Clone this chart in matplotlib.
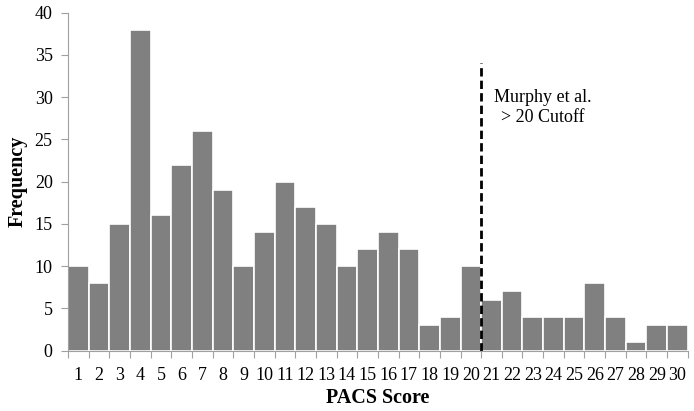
import numpy as np
import matplotlib.pyplot as plt

scores = list(range(1, 31))
freq = [10, 8, 15, 38, 16, 22, 26, 19, 10, 14, 20, 17, 15, 10, 12, 14, 12, 3, 4, 10,
        6, 7, 4, 4, 4, 8, 4, 1, 3, 3]
cutoff = 20.5

plt.rcParams['font.family'] = ['Liberation Serif', 'DejaVu Serif']

fig = plt.figure(figsize=(6.94, 4.11), dpi=100)
ax = fig.add_axes([0.098, 0.147, 0.893, 0.822])

ax.bar(scores, freq, width=1.0, color='#808080', edgecolor='white', linewidth=1.2)
ax.plot([cutoff, cutoff], [0, 34.1], color='black', linestyle=(0, (3, 1.5)), linewidth=2)
ax.text(23.5, 28.8, 'Murphy et al.\n> 20 Cutoff', ha='center', va='center', fontsize=13)

ax.set_xlim(0.5, 30.5)
ax.set_ylim(0, 40)
ax.set_yticks(range(0, 41, 5))
ax.set_xticks(np.arange(0.5, 31, 1))
ax.set_xticklabels([])
ax.set_xticks(scores, minor=True)
ax.set_xticklabels([str(s) for s in scores], minor=True)
ax.tick_params(axis='x', which='minor', length=0, pad=12, labelsize=13)
ax.tick_params(axis='x', which='major', length=5, color='#a0a0a0')
ax.tick_params(axis='y', length=5, pad=6, color='#a0a0a0', labelsize=13)

for s in ['top', 'right']:
    ax.spines[s].set_visible(False)
for s in ['left', 'bottom']:
    ax.spines[s].set_color('#a0a0a0')

ax.set_xlabel('PACS Score', fontsize=14.5, fontweight='bold', labelpad=3)
ax.set_ylabel('Frequency', fontsize=14.5, fontweight='bold', labelpad=5)

fig.savefig('out.png', dpi=100)
